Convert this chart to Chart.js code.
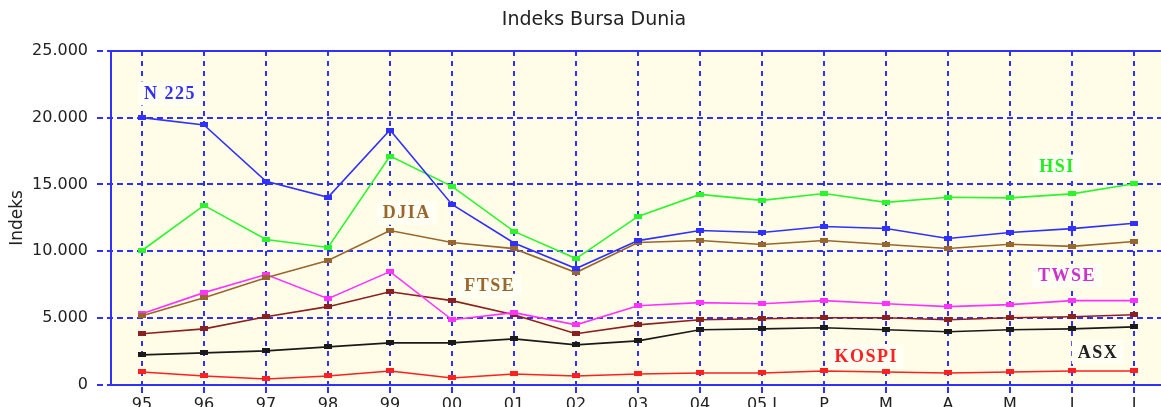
<!DOCTYPE html>
<html>
<head>
<meta charset="utf-8">
<title>Indeks Bursa Dunia</title>
<script src="https://cdn.jsdelivr.net/npm/chart.js@4.4.1/dist/chart.umd.min.js"></script>
<style>
  html, body { margin: 0; padding: 0; background: #fff; overflow: hidden; }
  #wrap { width: 1166px; height: 420px; }
</style>
</head>
<body>
<div id="wrap"><canvas id="chart" width="1166" height="420"></canvas></div>
<script>
// periods: years 95..04, then months of 2005
const categories = ['95', '96', '97', '98', '99', '00', '01', '02', '03', '04', '05 J', 'P', 'M', 'A', 'M', 'J', 'J'];

const n225  = [20000, 19450, 15240, 14040, 19070, 13510, 10620, 8710, 10800, 11560, 11410, 11860, 11710, 10960, 11410, 11700, 12100];
const hsi   = [10060, 13440, 10890, 10290, 17120, 14860, 11490, 9460, 12610, 14260, 13810, 14330, 13660, 14040, 14000, 14300, 15060];
const djia  = [5180, 6530, 8030, 9310, 11560, 10660, 10200, 8410, 10660, 10810, 10510, 10810, 10510, 10210, 10530, 10370, 10740];
const twse  = [5330, 6910, 8260, 6460, 8480, 4880, 5410, 4500, 5930, 6160, 6080, 6310, 6080, 5860, 6010, 6310, 6310];
const ftse  = [3830, 4200, 5100, 5860, 6980, 6310, 5260, 3830, 4500, 4880, 4960, 5030, 5030, 4880, 5030, 5110, 5260];
const asx   = [2250, 2400, 2550, 2850, 3150, 3150, 3450, 3000, 3300, 4130, 4200, 4280, 4130, 3980, 4130, 4200, 4350];
const kospi = [975, 675, 450, 675, 1050, 525, 825, 675, 825, 900, 900, 1050, 975, 900, 975, 1050, 1050];

const yTickLabels = ['0', '5.000', '10.000', '15.000', '20.000', '25.000'];

const gridBlue = '#3030ff';
const textFont = 'DejaVu Sans';

// small bar-shaped point markers
function marker(color) {
  const c = document.createElement('canvas');
  c.width = 8;
  c.height = 5;
  const g = c.getContext('2d');
  g.fillStyle = color;
  g.fillRect(0, 0, 8, 5);
  return c;
}

function series(label, data, color) {
  return {
    label: label,
    data: data,
    borderColor: color,
    backgroundColor: color,
    borderWidth: 1.6,
    tension: 0,
    pointStyle: marker(color),
    // image markers ignore the radius; keep it tiny so the layout adds no overflow padding
    pointRadius: 1,
    pointBorderWidth: 0,
    pointHoverRadius: 1
  };
}

// series names written inside the plot, placed in data units [category index, value]
const tags = [
  { text: 'N 225', color: '#3030ff', at: [0.45, 21810] },
  { text: 'HSI',   color: '#22ee22', at: [14.76, 16340] },
  { text: 'DJIA',  color: '#99662e', at: [4.27, 12890] },
  { text: 'FTSE',  color: '#99662e', at: [5.61, 7420] },
  { text: 'TWSE',  color: '#cc33cc', at: [14.92, 8170] },
  { text: 'KOSPI', color: '#ff2020', at: [11.68, 2170] },
  { text: 'ASX',   color: '#222222', at: [15.42, 2470] }
];

const plotBackground = {
  id: 'plotBackground',
  beforeDraw(chart) {
    const { ctx, chartArea: a } = chart;
    ctx.save();
    ctx.fillStyle = '#fffde7';
    ctx.fillRect(a.left, a.top, a.right - a.left, a.bottom - a.top);
    ctx.restore();
  }
};

// dashed blue grid, tick marks and the solid frame
const dashedGrid = {
  id: 'dashedGrid',
  beforeDatasetsDraw(chart) {
    const { ctx, chartArea: a, scales: { x, y } } = chart;
    const left = Math.round(a.left), right = Math.round(a.right);
    const top = Math.round(a.top), bottom = Math.round(a.bottom);
    ctx.save();
    ctx.strokeStyle = gridBlue;
    ctx.lineWidth = 2;

    ctx.setLineDash([5, 5]);
    x.ticks.forEach((t, i) => {
      const px = Math.round(x.getPixelForTick(i));
      ctx.beginPath();
      ctx.moveTo(px, top);
      ctx.lineTo(px, bottom);
      ctx.stroke();
    });

    ctx.setLineDash([6, 4]);
    y.ticks.forEach((t, i) => {
      const py = Math.round(y.getPixelForTick(i));
      ctx.beginPath();
      ctx.moveTo(left - 14, py);
      ctx.lineTo(right, py);
      ctx.stroke();
    });

    ctx.setLineDash([]);
    x.ticks.forEach((t, i) => {
      const px = Math.round(x.getPixelForTick(i));
      ctx.beginPath();
      ctx.moveTo(px, bottom + 2);
      ctx.lineTo(px, bottom + 8);
      ctx.stroke();
    });
    ctx.strokeRect(left, top, right - left, bottom - top);
    ctx.restore();
  }
};

const seriesTags = {
  id: 'seriesTags',
  beforeDatasetsDraw(chart) {
    const { ctx, scales: { x, y } } = chart;
    ctx.save();
    ctx.font = 'bold 18px "Liberation Serif"';
    ctx.letterSpacing = '1.5px';
    ctx.textAlign = 'center';
    ctx.textBaseline = 'middle';
    tags.forEach(t => {
      const px = x.getPixelForValue(t.at[0]);
      const py = y.getPixelForValue(t.at[1]);
      const w = ctx.measureText(t.text).width + 12;
      ctx.fillStyle = '#fffff3';
      ctx.fillRect(px - w / 2, py - 12, w, 24);
      ctx.fillStyle = t.color;
      ctx.fillText(t.text, px, py + 1);
    });
    ctx.restore();
  }
};

new Chart(document.getElementById('chart'), {
  type: 'line',
  data: {
    labels: categories,
    datasets: [
      series('N 225', n225, '#3030ff'),
      series('HSI', hsi, '#2cf52c'),
      series('DJIA', djia, '#99662e'),
      series('TWSE', twse, '#ff33ff'),
      series('FTSE', ftse, '#8b2020'),
      series('ASX', asx, '#1a1a1a'),
      series('KOSPI', kospi, '#ff2020')
    ]
  },
  options: {
    responsive: false,
    animation: false,
    layout: { padding: { left: 22, right: 0, top: 0, bottom: 0 } },
    plugins: {
      legend: { display: false },
      tooltip: { enabled: false },
      title: {
        display: true,
        text: 'Indeks Bursa Dunia',
        color: '#222',
        font: { family: textFont, size: 19, weight: 'normal' },
        padding: { top: 9, bottom: 19 }
      }
    },
    scales: {
      x: {
        offset: true,
        afterFit(scale) { scale.height = 35; },
        grid: {
          drawOnChartArea: false,
          color: 'transparent',
          tickColor: 'transparent',
          tickLength: 8
        },
        border: { display: false },
        ticks: {
          color: '#222',
          padding: 2,
          maxRotation: 0,
          autoSkip: false,
          font: { family: textFont, size: 16 }
        }
      },
      y: {
        min: 0,
        max: 25000,
        afterFit(scale) { scale.width = 89; },
        grid: {
          drawOnChartArea: false,
          color: 'transparent',
          tickColor: 'transparent',
          tickLength: 14
        },
        border: { display: false },
        ticks: {
          stepSize: 5000,
          color: '#222',
          padding: 9,
          font: { family: textFont, size: 16 },
          callback: v => yTickLabels[Math.round(v / 5000)]
        },
        title: {
          display: true,
          text: 'Indeks',
          color: '#222',
          font: { family: textFont, size: 17 },
          padding: { top: -15, bottom: 0 }
        }
      }
    }
  },
  plugins: [plotBackground, dashedGrid, seriesTags]
});
</script>
</body>
</html>
